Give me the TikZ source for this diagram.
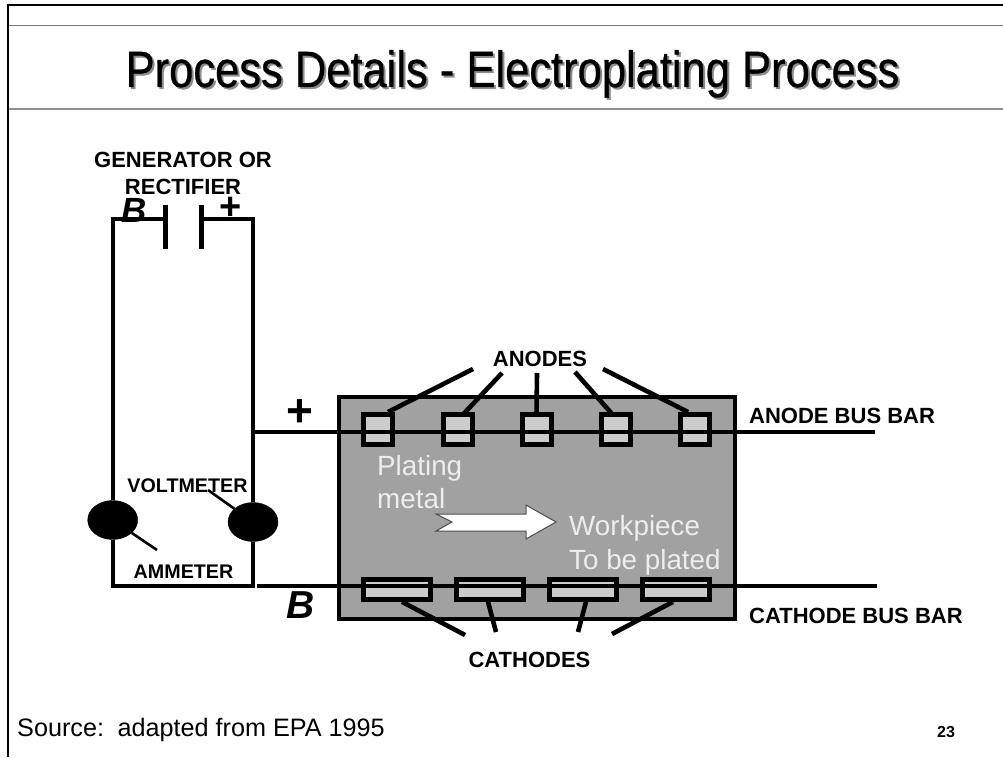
\documentclass[tikz,border=0pt]{standalone}
\usetikzlibrary{shapes.geometric}
\usepackage{fontspec}
\setmainfont{Liberation Sans}
\newfontfamily\titlefont[FakeBold=0.7]{Liberation Sans}
\usepackage{graphicx}
\definecolor{tankgray}{gray}{0.63}
\definecolor{plategray}{gray}{0.8}
\definecolor{rulegray}{gray}{0.45}
\definecolor{whitetext}{gray}{0.93}
\tikzset{
    wire/.style={line width=3.6pt},
    leader/.style={line width=4.6pt},
    thinleader/.style={line width=2.6pt},
    meter/.style={draw, fill=black, ellipse, inner sep=0pt, minimum width=50, minimum height=39},
    anodebox/.style={draw, line width=5pt, fill=plategray, inner sep=0pt, minimum width=29, minimum height=30},
    cathodebox/.style={draw, line width=4.6pt, fill=plategray, inner sep=0pt, minimum width=67, minimum height=20},
    caps/.style={font=\fontsize{22}{24}\selectfont\bfseries, inner sep=0pt, anchor=base},
    metercaps/.style={font=\fontsize{19.7}{22}\selectfont\bfseries, inner sep=0pt, anchor=base},
    platetext/.style={font=\fontsize{27.8}{30}\selectfont, text=whitetext, inner sep=0pt, anchor=base west},
    signb/.style={inner sep=0pt}
}
\begin{document}
\begin{tikzpicture}[x=1pt, y=-1pt]
                \useasboundingbox (0,0) rectangle (1003,757);

                % frame and title
                \draw [line width=1.3pt, rulegray] (8,25.5) -- (1003,25.5);
                \draw [line width=2pt, rulegray!80] (8,109.5) -- (1003,109.5);
                \draw [line width=2pt] (1003,5) -- (8,5) -- (8,757);
                \node (titleshadow) [inner sep=0pt, anchor=base, text=black!45] at (514.5,89) {\scalebox{0.853}[1]{\titlefont\fontsize{51}{56}\selectfont Process Details - Electroplating Process}};
                \node (title) [inner sep=0pt, anchor=base] at (512.5,87) {\scalebox{0.853}[1]{\titlefont\fontsize{51}{56}\selectfont Process Details - Electroplating Process}};

                % tank
                \draw [line width=4pt, fill=tankgray] (339,397) rectangle (735,619);

                % circuit
                \coordinate (plateLtop) at (165,205);
                \coordinate (plateLbot) at (165,249);
                \coordinate (plateRtop) at (201,205);
                \coordinate (plateRbot) at (201,249);
                \coordinate (plateLmid) at (165,219);
                \coordinate (plateRmid) at (201,219);
                \node (ammeter) [meter] at (112.7,520) {};
                \node (voltmeter) [meter] at (253,522) {};
                \coordinate (corner1) at (112.7,219);
                \coordinate (corner2) at (253,219);
                \coordinate (corner3) at (253,586);
                \coordinate (corner4) at (112.7,586);
                \draw [wire] (plateLmid) -- (corner1) -- (ammeter);
                \draw [wire] (plateRmid) -- (corner2) -- (voltmeter);
                \draw [wire] (ammeter) -- (corner4) -- (corner3) -- (voltmeter);
                \draw [line width=5pt] (plateLtop) -- (plateLbot);
                \draw [line width=5pt] (plateRtop) -- (plateRbot);

                % anodes and cathodes
                \foreach \name/\x in {1/378, 2/457.5, 3/536.5, 4/616, 5/695}
                    \node (anode\name) [anodebox] at (\x,429.5) {};
                \foreach \name/\x in {1/397, 2/490, 3/583, 4/676}
                    \node (cathode\name) [cathodebox] at (\x,589.5) {};

                % bus bars
                \coordinate (anodebusL) at (253,432);
                \coordinate (anodebusR) at (875,432);
                \coordinate (cathodebusL) at (257,586);
                \coordinate (cathodebusR) at (877,586);
                \draw [wire] (anodebusL) -- (anodebusR);
                \draw [wire] (cathodebusL) -- (cathodebusR);

                % labels
                \node (generator) [caps] at (183,167) {GENERATOR OR};
                \node (rectifier) [caps] at (183,194) {RECTIFIER};
                \node (signB1) [signb, anchor=base, font=\fontsize{35}{35}\selectfont\bfseries\itshape] at (134,222) {B};
                \node (signP1) [signb, font=\fontsize{38}{38}\selectfont\bfseries] at (231,208) {+};
                \node (signP2) [signb, font=\fontsize{46}{46}\selectfont\bfseries] at (300,413) {+};
                \node (signB2) [signb, anchor=base, font=\fontsize{39}{39}\selectfont\bfseries\itshape] at (301,618) {B};
                \node (voltlabel) [metercaps] at (187.5,492) {VOLTMETER};
                \node (ammlabel) [metercaps] at (183.5,578) {AMMETER};
                \node (anodeslabel) [caps] at (540,366) {ANODES};
                \node (cathodeslabel) [caps] at (529.5,667) {CATHODES};
                \node (anodebar) [caps, anchor=base west] at (749,423) {ANODE BUS BAR};
                \node (cathodebar) [caps, anchor=base west] at (749,623) {CATHODE BUS BAR};
                \node (plating) [platetext] at (377,475) {Plating};
                \node (metal) [platetext] at (377,508) {metal};
                \node (workpiece) [platetext] at (569,535) {Workpiece};
                \node (tobeplated) [platetext] at (569,569) {To be plated};
                \node (source) [inner sep=0pt, anchor=base west, font=\fontsize{25.2}{28}\selectfont] at (17,736) {Source:\, adapted from EPA 1995};
                \node (pagenum) [inner sep=0pt, anchor=base, font=\fontsize{16}{18}\selectfont\bfseries] at (946,737) {23};

                % plating arrow
                \draw [line width=1pt, draw=black!70, fill=white] (436,514) -- (526,514) -- (526,505) -- (556,522) -- (526,539) -- (526,531) -- (436,531) -- (452,522) -- cycle;

                % leaders
                \coordinate (voltend) at (208,490);
                \coordinate (ammend) at (157,550);
                \draw [thinleader] (voltend) -- (voltmeter);
                \draw [thinleader] (ammend) -- (ammeter);

                \coordinate (anodefree1) at (473,369);
                \coordinate (anodefree2) at (502,373);
                \coordinate (anodefree3) at (537,373);
                \coordinate (anodefree4) at (575,372);
                \coordinate (anodefree5) at (603,369);
                \draw [leader] (anodefree1) -- ([xshift=10]anode1.north);
                \draw [leader] (anodefree2) -- ([xshift=5,yshift=-3]anode2.north);
                \draw [leader] (anodefree3) -- ([yshift=-3]anode3.north);
                \draw [leader] (anodefree4) -- ([xshift=-3,yshift=-3]anode4.north);
                \draw [leader] (anodefree5) -- ([xshift=-7]anode5.north);

                \coordinate (cathodefree1) at (465,635);
                \coordinate (cathodefree2) at (496,632);
                \coordinate (cathodefree3) at (578,632);
                \coordinate (cathodefree4) at (612,634);
                \draw [leader] (cathodefree1) -- ([xshift=5]cathode1.south);
                \draw [leader] (cathodefree2) -- ([xshift=-2]cathode2.south);
                \draw [leader] (cathodefree3) -- ([xshift=3]cathode3.south);
                \draw [leader] (cathodefree4) -- ([xshift=-3]cathode4.south);
            \end{tikzpicture}
\end{document}
